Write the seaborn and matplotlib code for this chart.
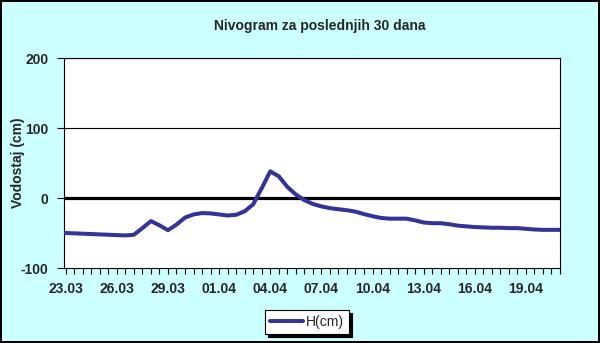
import numpy as np
import pandas as pd
import matplotlib
matplotlib.use("Agg")
import matplotlib.pyplot as plt
import seaborn as sns
from matplotlib.ticker import MultipleLocator, FixedLocator

# ---- data (half-day readings, day 0 = 23.03) ----
days = np.arange(0, 29.5, 0.5)
h_cm = [-50, -50.5, -51, -51.5, -52, -52.5, -53, -53.5, -52.5, -43,
        -33, -39, -46, -38, -28, -23.5, -21.5, -22, -23.5, -25,
        -24, -19, -9, 14, 38, 31, 16, 5, -3, -8.5,
        -12, -14.5, -16, -17.5, -19.5, -23, -26, -28.5, -29.5, -29.5,
        -29.5, -32, -35, -36, -36, -37.5, -39.5, -40.5, -41.5, -42,
        -42.5, -42.5, -43, -43, -44, -45, -45.5, -45.5, -45.5]
tick_days = [0, 3, 6, 9, 12, 15, 18, 21, 24, 27]
tick_labels = ["23.03", "26.03", "29.03", "01.04", "04.04",
               "07.04", "10.04", "13.04", "16.04", "19.04"]
y_ticks = [-100, 0, 100, 200]
title = "Nivogram za poslednjih 30 dana"
ylabel = "Vodostaj (cm)"
series_name = "H(cm)"

df = pd.DataFrame({"day": days, series_name: h_cm})

sns.set_style("white")
plt.rcParams["font.family"] = ["Liberation Sans", "DejaVu Sans"]

fig = plt.figure(figsize=(6.0, 3.43), dpi=100)
fig.patch.set_facecolor("#CCFFFF")
fig.patch.set_edgecolor("black")
fig.patch.set_linewidth(1.5)

ax = fig.add_axes([64/600, 75/343, 496/600, 210/343])
ax.set_facecolor("white")

for yv in [100, 200]:
    ax.axhline(yv, color="black", lw=0.8, zorder=1)
ax.axhline(0, color="black", lw=2.3, zorder=1)

sns.lineplot(data=df, x="day", y=series_name, ax=ax, color="#333399",
             lw=2.9, label=series_name, zorder=3,
             solid_joinstyle="round", solid_capstyle="round")

ax.set_xlim(-0.1, 29.0)
ax.set_ylim(-100, 200)
ax.set_yticks(y_ticks)
ax.set_yticklabels([str(v) for v in y_ticks], fontsize=10, fontweight="bold")
ax.xaxis.set_major_locator(FixedLocator(tick_days))
ax.set_xticklabels(tick_labels, fontsize=10, fontweight="bold")
ax.xaxis.set_minor_locator(MultipleLocator(0.5))
ax.tick_params(axis="x", which="both", direction="out", length=4, width=0.8,
               color="black", bottom=True, pad=6)
ax.tick_params(axis="y", which="major", direction="out", length=5, width=0.8,
               color="black", left=True, pad=6)
ax.set_xlabel("")
ax.set_ylabel(ylabel, fontsize=10, fontweight="bold")
ax.yaxis.set_label_coords((25 - 64) / 496, 0.5)

for s in ["left", "bottom", "right", "top"]:
    ax.spines[s].set_visible(True)
    ax.spines[s].set_color("black")
    ax.spines[s].set_linewidth(0.8)

fig.text(320/600, 1 - 26/343, title, ha="center", va="center",
         fontsize=10, fontweight="bold")

leg = ax.legend(loc="center", bbox_to_anchor=(307/600, 1 - 322/343),
                bbox_transform=fig.transFigure, frameon=True, fancybox=False,
                shadow={"color": "black", "alpha": 1.0}, edgecolor="black",
                facecolor="white", framealpha=1, fontsize=10,
                handlelength=2.4, handletextpad=0.2, borderpad=0.35)
leg.get_frame().set_linewidth(0.8)

fig.savefig("out.png", dpi=100, facecolor=fig.get_facecolor(),
            edgecolor=fig.get_edgecolor())
